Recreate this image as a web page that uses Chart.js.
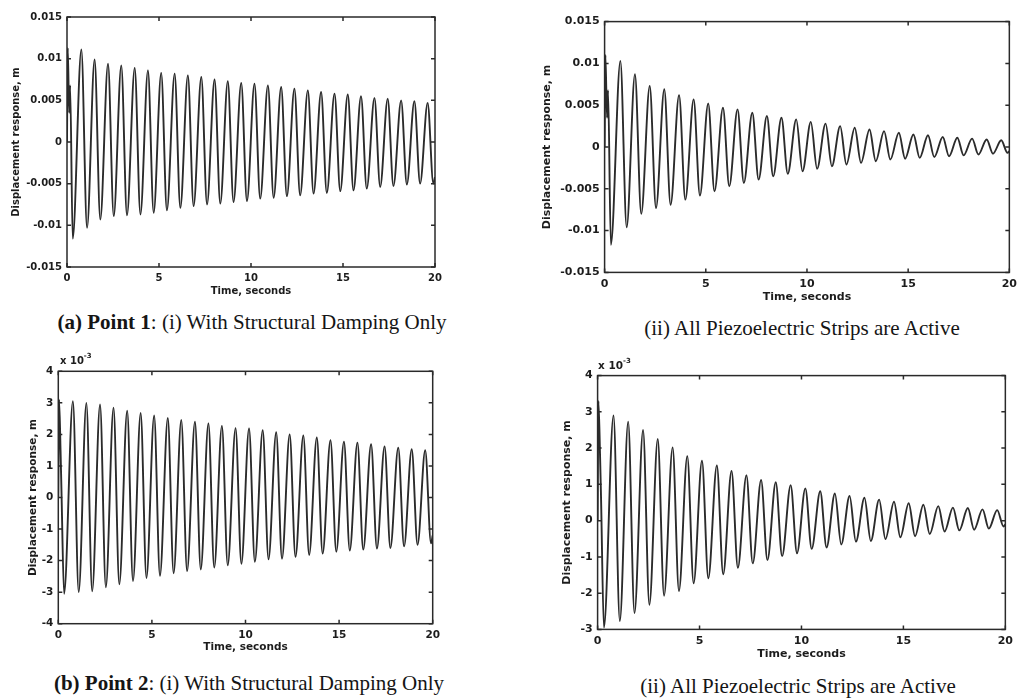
<!DOCTYPE html>
<html>
<head>
<meta charset="utf-8">
<script src="https://cdn.jsdelivr.net/npm/chart.js@4.4.1/dist/chart.umd.min.js"></script>
<style>
  body { margin: 0; background: #fff; width: 1021px; height: 699px; position: relative; overflow: hidden; }
  canvas { position: absolute; }
  .cap { position: absolute; font-family: "Liberation Serif", serif; font-size: 21px; line-height: 1; color: #151515; white-space: nowrap; transform: translateX(-50%); }
  .exp { position: absolute; font-family: "DejaVu Sans", sans-serif; font-weight: bold; color: #1c1c1c; white-space: nowrap; }
</style>
</head>
<body>
<canvas id="c1"></canvas>
<canvas id="c2"></canvas>
<canvas id="c3"></canvas>
<canvas id="c4"></canvas>

<div class="cap" style="left:252px; top:312px"><b>(a) Point 1</b>: (i) With Structural Damping Only</div>
<div class="cap" style="left:802px; top:318px">(ii) All Piezoelectric Strips are Active</div>
<div class="cap" style="left:249px; top:673px"><b>(b) Point 2</b>: (i) With Structural Damping Only</div>
<div class="cap" style="left:798px; top:676px">(ii) All Piezoelectric Strips are Active</div>

<div class="exp" style="left:60px; top:352px; font-size:10px">x 10<span style="font-size:7px; vertical-align:6px">-3</span></div>
<div class="exp" style="left:598px; top:357px; font-size:10.5px">x 10<span style="font-size:7px; vertical-align:6px">-3</span></div>

<script>
// turning points of the response (s)
let times = [0, 0.04, 0.12, 0.17, 0.31,
  0.78, 1.09, 1.50, 1.81, 2.23, 2.54, 2.95, 3.26, 3.68, 3.99,
  4.40, 4.71, 5.12, 5.43, 5.85, 6.16, 6.57, 6.88, 7.30, 7.61,
  8.02, 8.33, 8.74, 9.05, 9.47, 9.78, 10.19, 10.50, 10.92, 11.23,
  11.64, 11.95, 12.36, 12.67, 13.09, 13.40, 13.81, 14.12, 14.54, 14.85,
  15.26, 15.57, 15.98, 16.29, 16.71, 17.02, 17.43, 17.74, 18.16, 18.47,
  18.88, 19.19, 19.60, 19.91, 20];

// point 1, structural damping only (m)
let point1Structural = [0, 0.0113, 0.0035, 0.0068, -0.0116,
  0.0111, -0.0103, 0.0099, -0.0093, 0.0094, -0.0089, 0.0092, -0.0088, 0.0089, -0.0087,
  0.0086, -0.0085, 0.0083, -0.0082, 0.0082, -0.0079, 0.0080, -0.0077, 0.0078, -0.0075,
  0.0075, -0.0074, 0.0073, -0.0072, 0.0071, -0.0071, 0.0070, -0.0068, 0.0068, -0.0067,
  0.0066, -0.0065, 0.0064, -0.0064, 0.0062, -0.0062, 0.0060, -0.0061, 0.0058, -0.0059,
  0.0057, -0.0058, 0.0055, -0.0056, 0.0053, -0.0054, 0.0052, -0.0053, 0.0050, -0.0051,
  0.0049, -0.0050, 0.0047, -0.0050, -0.0042];

// point 1, all piezo strips active (m)
let point1Piezo = [0, 0.0110, 0.0035, 0.0068, -0.0117,
  0.0103, -0.0096, 0.0087, -0.0080, 0.0073, -0.0073, 0.0069, -0.0069, 0.0062, -0.0063,
  0.0057, -0.0058, 0.0052, -0.0053, 0.0047, -0.0047, 0.0045, -0.0043, 0.0041, -0.0039,
  0.0037, -0.0035, 0.0035, -0.0032, 0.0033, -0.0029, 0.0030, -0.0026, 0.0028, -0.0023,
  0.0025, -0.0021, 0.0023, -0.0019, 0.0021, -0.0017, 0.0019, -0.0015, 0.0017, -0.0014,
  0.0015, -0.0013, 0.0014, -0.0012, 0.0012, -0.0011, 0.0011, -0.0010, 0.0010, -0.0009,
  0.0009, -0.0008, 0.0008, -0.0007, -0.0005];

// point 2, structural damping only (x 10^-3 m)
let point2Structural = [0, 3.1, 1.5, 0.2, -3.05,
  3.05, -3.0, 3.0, -2.97, 2.95, -2.85, 2.85, -2.75, 2.75, -2.65,
  2.68, -2.55, 2.6, -2.48, 2.52, -2.4, 2.46, -2.33, 2.4, -2.28,
  2.35, -2.22, 2.27, -2.15, 2.2, -2.1, 2.19, -2.04, 2.13, -1.96,
  2.07, -1.94, 2.0, -1.88, 1.97, -1.82, 1.9, -1.78, 1.82, -1.72,
  1.77, -1.68, 1.74, -1.65, 1.69, -1.62, 1.62, -1.6, 1.58, -1.55,
  1.53, -1.5, 1.5, -1.45, -1.2];

// point 2, all piezo strips active (x 10^-3 m)
let point2Piezo = [0, 3.3, 1.8, 0.6, -2.95,
  2.9, -2.77, 2.73, -2.55, 2.5, -2.32, 2.25, -2.07, 2.02, -1.94,
  1.78, -1.73, 1.65, -1.59, 1.52, -1.48, 1.37, -1.3, 1.25, -1.18,
  1.12, -1.09, 1.06, -0.98, 0.98, -0.9, 0.89, -0.78, 0.81, -0.74,
  0.75, -0.66, 0.68, -0.58, 0.63, -0.56, 0.58, -0.51, 0.52, -0.46,
  0.48, -0.43, 0.44, -0.37, 0.4, -0.3, 0.36, -0.27, 0.35, -0.25,
  0.31, -0.22, 0.29, -0.16, -0.1];

let xTicks = [0, 5, 10, 15, 20];
let yTicksTop = [-0.015, -0.01, -0.005, 0, 0.005, 0.01, 0.015];
let yLabelsTop = ["-0.015", "-0.01", "-0.005", "0", "0.005", "0.01", "0.015"];
let yTicksBottomLeft = [-4, -3, -2, -1, 0, 1, 2, 3, 4];
let yTicksBottomRight = [-3, -2, -1, 0, 1, 2, 3, 4];

// plot box of each panel on the page
let panels = [
  { id: "c1", values: point1Structural, yTicks: yTicksTop, yLabels: yLabelsTop,
    left: 67, top: 14, right: 435, bottom: 267, font: 10, titleGap: 51, xTitleGap: 24 },
  { id: "c2", values: point1Piezo, yTicks: yTicksTop, yLabels: yLabelsTop,
    left: 605, top: 18, right: 1011, bottom: 273, font: 11, titleGap: 57, xTitleGap: 25 },
  { id: "c3", values: point2Structural, yTicks: yTicksBottomLeft, yLabels: yTicksBottomLeft.map(String),
    left: 58, top: 368, right: 433, bottom: 624, font: 10.5, titleGap: 25, xTitleGap: 24 },
  { id: "c4", values: point2Piezo, yTicks: yTicksBottomRight, yLabels: yTicksBottomRight.map(String),
    left: 598, top: 372, right: 1007, bottom: 630, font: 11, titleGap: 30, xTitleGap: 25 }
];

// matlab style box with inward ticks on all sides
let frame = {
  id: "frame",
  afterDraw(chart) {
    let ctx = chart.ctx;
    let a = chart.chartArea;
    let sx = chart.scales.x, sy = chart.scales.y;
    ctx.save();
    ctx.strokeStyle = "#2a2a2a";
    ctx.lineWidth = 1.5;
    ctx.strokeRect(a.left, a.top, a.right - a.left, a.bottom - a.top);
    ctx.beginPath();
    sx.ticks.forEach(t => {
      let px = sx.getPixelForValue(t.value);
      ctx.moveTo(px, a.bottom); ctx.lineTo(px, a.bottom - 4);
      ctx.moveTo(px, a.top); ctx.lineTo(px, a.top + 4);
    });
    sy.ticks.forEach(t => {
      let py = sy.getPixelForValue(t.value);
      ctx.moveTo(a.left, py); ctx.lineTo(a.left + 4, py);
      ctx.moveTo(a.right, py); ctx.lineTo(a.right - 4, py);
    });
    ctx.stroke();
    ctx.restore();
  }
};

panels.forEach(p => {
  let lh = p.font * 1.2;
  let yW = p.titleGap + lh / 2;
  let xH = p.xTitleGap + lh / 2;
  let padTop = 8, padRight = 12;
  let canvas = document.getElementById(p.id);
  canvas.width = yW + (p.right - p.left) + padRight;
  canvas.height = padTop + (p.bottom - p.top) + xH;
  canvas.style.left = (p.left - yW) + "px";
  canvas.style.top = (p.top - padTop) + "px";

  let font = { family: "DejaVu Sans", weight: "bold", size: p.font };

  new Chart(canvas, {
    type: "line",
    data: {
      datasets: [{
        data: times.map((t, i) => ({ x: t, y: p.values[i] })),
        borderColor: "#2b2b2b",
        borderWidth: 1.9,
        pointRadius: 0,
        cubicInterpolationMode: "monotone",
        fill: false
      }]
    },
    options: {
      responsive: false,
      animation: false,
      layout: { padding: { top: padTop, right: padRight, left: 0, bottom: 0 } },
      plugins: { legend: { display: false }, tooltip: { enabled: false } },
      scales: {
        x: {
          type: "linear", min: 0, max: 20,
          afterBuildTicks: s => { s.ticks = xTicks.map(v => ({ value: v })); },
          afterFit: s => { s.height = xH; },
          grid: { display: false, drawTicks: false },
          border: { display: false },
          ticks: { padding: 5, color: "#1c1c1c", font: font, maxRotation: 0, autoSkip: false },
          title: { display: true, text: "Time, seconds", color: "#1c1c1c", font: font, padding: 0 }
        },
        y: {
          type: "linear", min: p.yTicks[0], max: p.yTicks[p.yTicks.length - 1],
          afterBuildTicks: s => { s.ticks = p.yTicks.map(v => ({ value: v })); },
          afterFit: s => { s.width = yW; },
          grid: { display: false, drawTicks: false },
          border: { display: false },
          ticks: { padding: 5, color: "#1c1c1c", font: font, autoSkip: false,
            callback: (v, i) => p.yLabels[i] },
          title: { display: true, text: "Displacement response, m", color: "#1c1c1c", font: font, padding: 0 }
        }
      }
    },
    plugins: [frame]
  });
});
</script>
</body>
</html>
